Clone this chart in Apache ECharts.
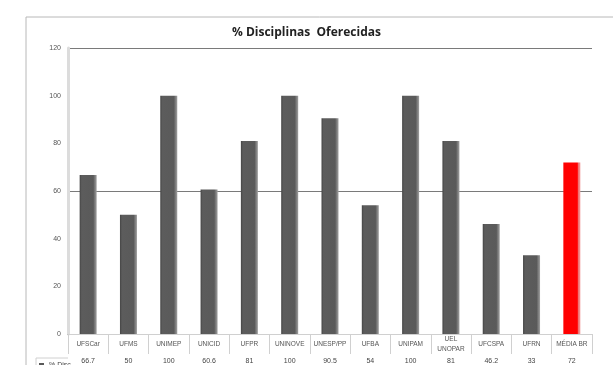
<!DOCTYPE html>
<html>
<head>
<meta charset="utf-8">
<script src="https://cdn.jsdelivr.net/npm/echarts@6/dist/echarts.min.js"></script>
<style>
  html, body { margin: 0; padding: 0; background: #fff; }
  #chart { width: 613px; height: 365px; }
</style>
</head>
<body>
<div id="chart"></div>
<script>
// Institutions and their share of offered disciplines (%)
const categories = ['UFSCar', 'UFMS', 'UNIMEP', 'UNICID', 'UFPR', 'UNINOVE', 'UNESP/PP',
  'UFBA', 'UNIPAM', 'UEL\nUNOPAR', 'UFCSPA', 'UFRN', 'MÉDIA BR'];
const values = [66.7, 50, 100, 60.6, 81, 100, 90.5, 54, 100, 81, 46.2, 33, 72];
const highlightIndex = 12;
const seriesName = '% Disc.';
const yTicks = { min: 0, max: 120, step: 20 };

const grayBar = {
  type: 'linear', x: 0, y: 0, x2: 1, y2: 0,
  colorStops: [
    { offset: 0, color: '#454545' }, { offset: 0.12, color: '#5c5c5c' },
    { offset: 0.8, color: '#5a5a5a' }, { offset: 0.88, color: '#777' },
    { offset: 1, color: '#a0a0a0' }
  ]
};
const redBar = {
  type: 'linear', x: 0, y: 0, x2: 1, y2: 0,
  colorStops: [
    { offset: 0, color: '#ff0000' }, { offset: 0.82, color: '#ff0000' },
    { offset: 0.88, color: '#f07070' }, { offset: 1, color: '#f2a0a0' }
  ]
};

const chart = echarts.init(document.getElementById('chart'), null, { renderer: 'canvas' });
const font = 'Liberation Sans, Arial, sans-serif';

chart.setOption({
  animation: false,
  title: {
    text: '% Disciplinas  Oferecidas',
    left: 'center', top: 22,
    textStyle: { fontFamily: 'Open Sans, Liberation Sans, sans-serif', fontSize: 12, fontWeight: 'bold', color: '#222' }
  },
  grid: { left: 68, right: 21, top: 48, bottom: 27, containLabel: false },
  legend: {
    data: [seriesName], left: 34, top: 357, itemWidth: 5, itemHeight: 5, itemGap: 3,
    textStyle: { fontSize: 7, color: '#444', fontFamily: font }, icon: 'rect'
  },
  xAxis: [
    {
      type: 'category', data: categories, position: 'bottom',
      axisLine: { show: true, lineStyle: { color: '#8a8a8a', width: 1 } },
      axisTick: { show: true, length: 20, lineStyle: { color: '#d0d0d0' } },
      axisLabel: {
        interval: 0, fontSize: 6.5, color: '#555', fontFamily: font,
        margin: 10, lineHeight: 10, verticalAlign: 'middle'
      }
    },
    {
      type: 'category', data: values.map(v => String(v)), position: 'bottom', offset: 20,
      axisLine: { show: true, lineStyle: { color: '#d0d0d0' } },
      axisTick: { show: true, length: 10, lineStyle: { color: '#d0d0d0' } },
      axisLabel: { interval: 0, fontSize: 7, color: '#444', fontFamily: font, margin: 4 }
    }
  ],
  yAxis: [
    {
      type: 'value', min: yTicks.min, max: yTicks.max, interval: yTicks.step,
      axisLine: { show: true, lineStyle: { color: '#dcdcdc', width: 3 } },
      axisTick: { show: false },
      splitLine: { show: false },
      axisLabel: { fontSize: 7, color: '#555', fontFamily: font, margin: 7 }
    },
    {
      type: 'value', min: yTicks.min, max: yTicks.max, interval: 60, position: 'left',
      axisLine: { show: false }, axisTick: { show: false }, axisLabel: { show: false },
      splitLine: { show: true, lineStyle: { color: '#7a7a7a', width: 1 } }
    }
  ],
  graphic: [
    { type: 'line', shape: { x1: 26, y1: 17, x2: 613, y2: 17 }, style: { stroke: '#b8b8b8', lineWidth: 1 } },
    { type: 'line', shape: { x1: 26, y1: 17, x2: 26, y2: 365 }, style: { stroke: '#b8b8b8', lineWidth: 1 } },
    { type: 'line', shape: { x1: 36, y1: 358, x2: 68, y2: 358 }, style: { stroke: '#d0d0d0', lineWidth: 1 } },
    { type: 'line', shape: { x1: 36, y1: 358, x2: 36, y2: 365 }, style: { stroke: '#d0d0d0', lineWidth: 1 } }
  ],
  series: [{
    name: seriesName, type: 'bar', xAxisIndex: 0, yAxisIndex: 0,
    barWidth: 17,
    data: values.map((v, i) => ({
      value: v,
      itemStyle: { color: i === highlightIndex ? redBar : grayBar }
    })),
    itemStyle: { color: '#595959' }
  }]
});
</script>
</body>
</html>
